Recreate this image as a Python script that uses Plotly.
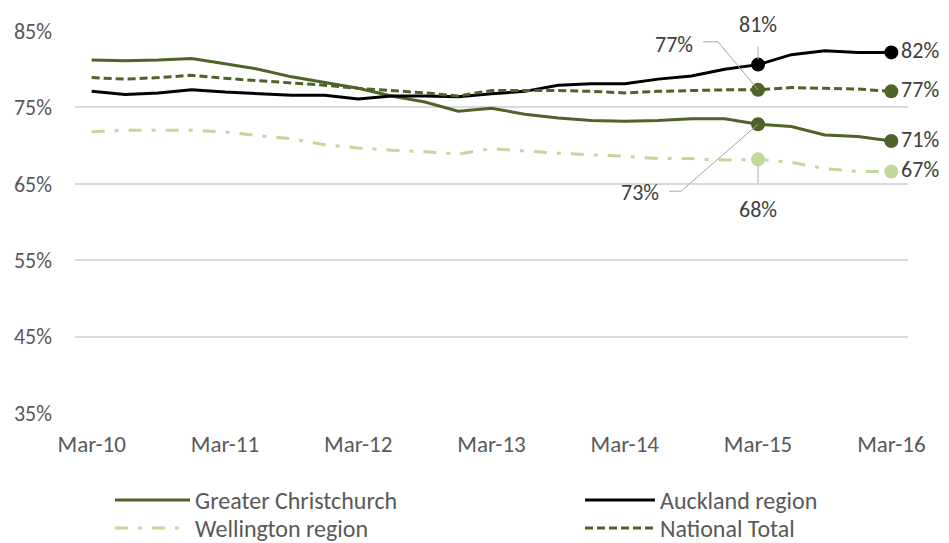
import plotly.graph_objects as go

# quarterly series, Mar-10 .. Mar-16
quarters = [f"{m}-{y}" for y in range(10, 17) for m in ("Mar", "Jun", "Sep", "Dec")][:25]
tick_labels = quarters[::4]
y_ticks = [35, 45, 55, 65, 75, 85]

christchurch = [81.2, 81.1, 81.2, 81.4, 80.7, 80.0, 79.0, 78.2, 77.5, 76.5, 75.7, 74.5, 74.9,
                74.1, 73.6, 73.3, 73.2, 73.3, 73.5, 73.5, 72.8, 72.5, 71.4, 71.2, 70.6]
auckland = [77.1, 76.7, 76.9, 77.3, 77.0, 76.8, 76.6, 76.6, 76.1, 76.5, 76.5, 76.4, 76.8,
            77.1, 77.9, 78.1, 78.1, 78.7, 79.1, 80.0, 80.6, 81.9, 82.4, 82.2, 82.2]
wellington = [71.8, 72.0, 72.0, 72.0, 71.8, 71.3, 70.9, 70.1, 69.7, 69.4, 69.2, 68.9, 69.6,
              69.3, 69.0, 68.8, 68.6, 68.3, 68.3, 68.1, 68.2, 67.8, 67.0, 66.6, 66.6]
national = [78.9, 78.7, 78.9, 79.2, 78.8, 78.5, 78.2, 77.9, 77.5, 77.2, 76.9, 76.5, 77.2,
            77.2, 77.2, 77.1, 76.9, 77.1, 77.2, 77.3, 77.3, 77.6, 77.5, 77.4, 77.1]

FONT = "Carlito, Lato, sans-serif"
OLIVE = "#4F6228"
LIGHT = "#C3D69B"
LABEL = "#404040"
TICK = "#595959"
LEADER = "#A6A6A6"

# page body keeps its default 8px margin, so the figure is 8px smaller than the window
W, H = 941, 535
M = dict(l=67, r=41, t=23, b=130)

series = [
    ("Greater Christchurch", christchurch, dict(color=OLIVE, width=3)),
    ("Auckland region", auckland, dict(color="black", width=3)),
    ("Wellington region", wellington, dict(color=LIGHT, width=3, dash="13px,10px,4px,10px")),
    ("National Total", national, dict(color=OLIVE, width=3, dash="8px,4px")),
]

fig = go.Figure()
for name, vals, line in series:
    fig.add_trace(go.Scatter(x=quarters, y=vals, name=name, mode="lines", line=line,
                             showlegend=False))

# markers at Mar-15 and Mar-16, labels for the last point
i15, i16 = quarters.index("Mar-15"), quarters.index("Mar-16")
for name, vals, line in series:
    fig.add_trace(go.Scatter(
        x=[quarters[i15], quarters[i16]], y=[vals[i15], vals[i16]],
        mode="markers+text", showlegend=False, cliponaxis=False,
        marker=dict(size=14, color=line["color"]),
        text=["", f"{vals[i16]:.0f}%"], textposition="middle right",
        textfont=dict(size=22, color=LABEL, family=FONT),
    ))

# Mar-15 labels with Excel-like leader lines (pixel offsets from the point, y up)
label_pos = {"Auckland region": (0, 40), "National Total": (-84, 45),
             "Greater Christchurch": (-118, -68), "Wellington region": (0, -50)}
leaders = {"Auckland region": "M 0,18 L 0,5",
           "National Total": "M -55,48 L -40,48 L 0,0",
           "Greater Christchurch": "M -89,-67 L -77,-67 L 0,0",
           "Wellington region": "M 0,-6 L 0,-24"}
for name, vals, line in series:
    dx, dy = label_pos[name]
    fig.add_shape(type="path", xref="x", yref="y", xsizemode="pixel", ysizemode="pixel",
                  xanchor=i15, yanchor=vals[i15], path=leaders[name],
                  line=dict(color=LEADER, width=1))
    fig.add_annotation(x=quarters[i15], y=vals[i15], text=f"{vals[i15]:.0f}%",
                       xshift=dx, yshift=dy, showarrow=False,
                       font=dict(size=22, color=LABEL, family=FONT))


# legend drawn by hand (Excel style: long line samples, two columns)
# positions given in window pixels, converted to paper coords
def px_x(px):
    return (px - 8 - M["l"]) / (W - M["l"] - M["r"])


def px_y(py):
    return (H - M["b"] - (py - 8)) / (H - M["t"] - M["b"])


# (sample start, sample end, text start, row centre)
legend_slots = [(115, 190, 193, 500), (585, 655, 658, 500),
                (115, 180, 193, 528), (585, 655, 658, 528)]
for (name, vals, line), (x0, x1, xt, yy) in zip(series, legend_slots):
    fig.add_shape(type="line", xref="paper", yref="paper",
                  x0=px_x(x0), x1=px_x(x1), y0=px_y(yy), y1=px_y(yy),
                  line=line)
    fig.add_annotation(xref="paper", yref="paper", x=px_x(xt), y=px_y(yy),
                       xanchor="left", yanchor="middle", showarrow=False, text=name,
                       font=dict(size=24, color=TICK, family=FONT))

fig.update_xaxes(range=[-0.5, len(quarters) - 0.5], tickvals=tick_labels,
                 showgrid=False, zeroline=False, showline=False, automargin=False,
                 ticklabelstandoff=15, tickfont=dict(size=23, color=TICK))
fig.update_yaxes(range=[35, 85], tickvals=y_ticks, ticktext=[f"{v}%" for v in y_ticks],
                 gridcolor="#D9D9D9", gridwidth=1.5, zeroline=False, showline=False,
                 automargin=False, ticklabelstandoff=22, tickfont=dict(size=22, color=TICK))

fig.update_layout(
    width=W, height=H,
    margin=M,
    plot_bgcolor="white", paper_bgcolor="white",
    font=dict(family=FONT, size=22, color=TICK),
    showlegend=False,
)

fig.write_html("out.html")
